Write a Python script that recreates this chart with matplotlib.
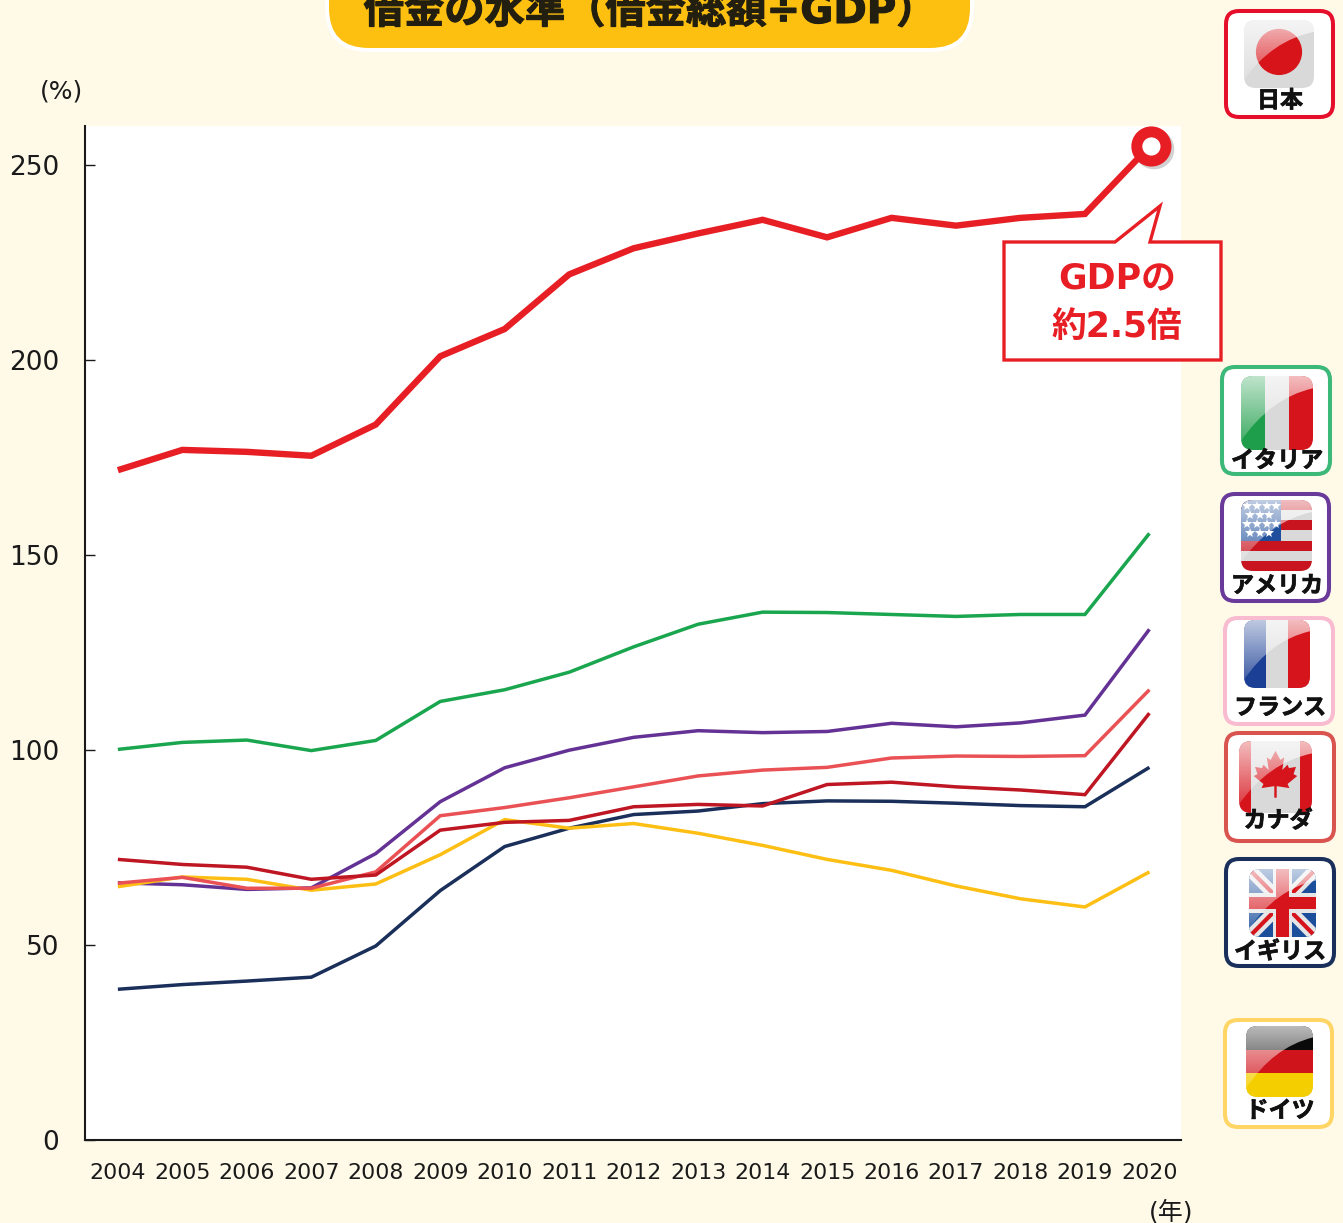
import numpy as np
import matplotlib
matplotlib.use("Agg")
import matplotlib.pyplot as plt
import matplotlib.patheffects as pe
import matplotlib.transforms as mt
from matplotlib.patches import FancyBboxPatch, Polygon, Rectangle, Circle, PathPatch
from matplotlib.path import Path

years = list(range(2004, 2021))
japan = [171.8, 177.0, 176.5, 175.5, 183.5, 201.0, 208.0, 222.0, 228.7, 232.5, 236.0, 231.5, 236.5, 234.5, 236.5, 237.5, 254.8]
italy = [100.2, 102.0, 102.6, 99.9, 102.5, 112.5, 115.5, 120.0, 126.5, 132.3, 135.4, 135.3, 134.8, 134.3, 134.8, 134.8, 155.6]
usa = [66.0, 65.5, 64.3, 64.7, 73.5, 86.8, 95.5, 100.0, 103.3, 105.0, 104.5, 104.8, 106.9, 106.0, 107.0, 109.0, 131.0]
france = [65.9, 67.4, 64.6, 64.6, 68.8, 83.2, 85.3, 87.8, 90.6, 93.4, 94.9, 95.6, 98.0, 98.5, 98.4, 98.6, 115.5]
canada = [72.0, 70.7, 70.0, 66.9, 68.0, 79.5, 81.5, 82.0, 85.5, 86.1, 85.7, 91.2, 91.8, 90.6, 89.8, 88.6, 109.5]
uk = [38.7, 39.9, 40.8, 41.8, 49.8, 64.0, 75.3, 80.0, 83.5, 84.4, 86.3, 87.0, 86.9, 86.4, 85.8, 85.5, 95.6]
germany = [65.0, 67.5, 66.9, 64.1, 65.7, 73.2, 82.2, 80.0, 81.2, 78.7, 75.6, 72.0, 69.2, 65.2, 61.9, 59.8, 68.8]
yticks = [0, 50, 100, 150, 200, 250]

W, H = 1343, 1223
BG = "#FFF9E8"
JP = ["Noto Sans CJK JP", "DejaVu Sans"]
LAT = ["DejaVu Sans", "Noto Sans CJK JP"]
fig = plt.figure(figsize=(W / 100, H / 100), dpi=100, facecolor=BG)

ax = fig.add_axes([85 / W, (H - 1140.2) / H, (1181 - 85) / W, (1140 - 126) / H], facecolor="white")
ax.set_xlim(2003.49, 2020.49)
ax.set_ylim(0, 260)
for s in ("top", "right"):
    ax.spines[s].set_visible(False)
for s in ("left", "bottom"):
    ax.spines[s].set_linewidth(1.5)
    ax.spines[s].set_color("#1a1a1a")
ax.set_xticks(years)
ax.set_yticks(yticks)
ax.tick_params(axis="x", length=0, pad=16.5, labelsize=15.9, labelcolor="#1a1a1a")
ax.tick_params(axis="y", direction="in", length=7.2, width=1.0, pad=18.5, labelsize=19, labelcolor="#1a1a1a", color="#1a1a1a")

series = [(italy, "#1AA64F"), (uk, "#1A2F5A"), (usa, "#643295"), (germany, "#FDBF14"),
          (france, "#EA5155"), (canada, "#BE1622")]
for vals, col in series:
    ax.plot(years, vals, color=col, lw=2.5, solid_joinstyle="miter", solid_capstyle="butt", clip_on=False)
ax.plot(years, japan, color="#E71F25", lw=4.6, solid_joinstyle="miter", solid_capstyle="butt", zorder=5)
ax.plot(years[-1:], japan[-1:], "o", ms=21, mfc="white", mec="#E71F25", mew=7.9, zorder=6, clip_on=False,
        transform=ax.transData + mt.Affine2D().translate(2, 0),
        path_effects=[pe.SimpleLineShadow(offset=(2, -2), alpha=0.18, shadow_color="black"), pe.Normal()])

# pixel-space overlay for decorations
ov = fig.add_axes([0, 0, 1, 1], facecolor="none", zorder=10)
ov.set_xlim(0, W)
ov.set_ylim(H, 0)
ov.axis("off")


def rbox(x0, y0, x1, y1, r, **kw):
    p = FancyBboxPatch((x0 + r, y0 + r), x1 - x0 - 2 * r, y1 - y0 - 2 * r,
                       boxstyle=f"round,pad={r},rounding_size={r}", **kw)
    ov.add_patch(p)
    return p


# title pill
rbox(325, -50, 974, 52, 44, fc="white", ec="none")
rbox(329, -50, 970, 48, 40, fc="#FDC010", ec="none")
ov.text(650, 23, "借金の水準（借金総額÷GDP）", family=LAT, weight="bold", fontsize=29,
        color="#231F10", ha="center", va="baseline",
        path_effects=[pe.withStroke(linewidth=0.8, foreground="#231F10")])

# unit labels
ov.text(62, 91, "(%)", fontsize=18, family=LAT, color="#1a1a1a", ha="center", va="center")
ov.text(1171, 1212, "(年)", fontsize=18, family=LAT, color="#1a1a1a", ha="center", va="center")

# callout
ov.add_patch(Polygon([(1004, 242), (1115, 242), (1160, 206), (1150, 242), (1221, 242), (1221, 360), (1004, 360)],
                     closed=True, fc="white", ec="#E71F25", lw=2.4, joinstyle="miter"))
ov.text(1117, 278, "GDPの", family=LAT, weight="bold", fontsize=25, color="#E71F25", ha="center", va="center")
ov.text(1117, 327, "約2.5倍", family=LAT, weight="bold", fontsize=25, color="#E71F25", ha="center", va="center")


def gloss(x0, y0, x1, y1, a0=0.72, a1=0.1):
    w, h = x1 - x0, y1 - y0
    r = 0.17 * w
    verts = [(x0, y0 + r), (x0, y0), (x0 + r, y0), (x1 - r, y0), (x1, y0), (x1, y0 + r),
             (x0 + 0.4 * w, y0 + 0.3 * h), (x0, y0 + 0.88 * h), (x0, y0 + r)]
    codes = [Path.MOVETO, Path.CURVE3, Path.CURVE3, Path.LINETO, Path.CURVE3, Path.CURVE3,
             Path.CURVE3, Path.CURVE3, Path.CLOSEPOLY]
    grad = np.ones((64, 1, 4))
    grad[:, 0, 3] = np.linspace(a0, a1, 64)
    im = ov.imshow(grad, extent=(x0, x1, y1, y0), aspect="auto", interpolation="bilinear", zorder=3)
    im.set_clip_path(PathPatch(Path(verts, codes), transform=ov.transData))


def add(clip, art):
    art.set_clip_path(clip)
    art.set_zorder(2)
    return art


def rect(clip, x, y, w, h, c):
    ov.add_patch(add(clip, Rectangle((x, y), w, h, fc=c, ec="none")))


def flag_japan(c, x0, y0, x1, y1):
    w, h = x1 - x0, y1 - y0
    ov.add_patch(add(c, Circle((x0 + 0.5 * w, y0 + 0.47 * h), 0.33 * w, fc="#D7141A", ec="none")))


def flag_italy(c, x0, y0, x1, y1):
    w, h = x1 - x0, y1 - y0
    rect(c, x0, y0, w / 3, h, "#1E9E4A")
    rect(c, x0 + 2 * w / 3, y0, w / 3, h, "#D6141C")


def flag_france(c, x0, y0, x1, y1):
    w, h = x1 - x0, y1 - y0
    rect(c, x0, y0, w / 3, h, "#1B3F94")
    rect(c, x0 + 2 * w / 3, y0, w / 3, h, "#D6141C")


def flag_usa(c, x0, y0, x1, y1):
    w, h = x1 - x0, y1 - y0
    sh = h / 7
    for i in (0, 2, 4, 6):
        rect(c, x0, y0 + i * sh, w, sh, "#C8141E")
    rect(c, x0, y0, 0.56 * w, 4 * sh, "#1F4F9C")
    for row in range(4):
        n = 4 if row % 2 == 0 else 3
        ox = 0.09 if row % 2 == 0 else 0.13
        xs = [x0 + (ox + k * 0.135) * w for k in range(n)]
        ys = [y0 + (0.09 + row * 0.125) * h] * n
        l, = ov.plot(xs, ys, "*", color="white", ms=7.5, mew=0)
        add(c, l)


def flag_canada(c, x0, y0, x1, y1):
    w, h = x1 - x0, y1 - y0
    rect(c, x0, y0, 0.17 * w, h, "#D6141C")
    rect(c, x1 - 0.17 * w, y0, 0.17 * w, h, "#D6141C")
    half = [(0, -1), (0.2, -0.62), (0.36, -0.72), (0.28, -0.2), (0.5, -0.42), (0.56, -0.28), (0.85, -0.33),
            (0.75, -0.03), (0.9, 0.05), (0.5, 0.38), (0.58, 0.55), (0.05, 0.47), (0.05, 0.95)]
    pts = half + [(-a, b) for a, b in reversed(half[1:])]
    cx, cy, s = x0 + 0.5 * w, y0 + 0.47 * h, 0.33 * w
    ov.add_patch(add(c, Polygon([(cx + a * s, cy + b * s) for a, b in pts], fc="#D6141C", ec="none")))


def flag_uk(c, x0, y0, x1, y1):
    w, h = x1 - x0, y1 - y0
    rect(c, x0, y0, w, h, "#1B4F9C")
    for (a, b) in (((x0, y0), (x1, y1)), ((x0, y1), (x1, y0))):
        l, = ov.plot([a[0], b[0]], [a[1], b[1]], color="#E6E6E6", lw=9, solid_capstyle="butt")
        add(c, l)
        l, = ov.plot([a[0], b[0]], [a[1], b[1]], color="#D6141C", lw=3, solid_capstyle="butt")
        add(c, l)
    rect(c, x0 + 0.36 * w, y0, 0.28 * w, h, "#E6E6E6")
    rect(c, x0, y0 + 0.36 * h, w, 0.28 * h, "#E6E6E6")
    rect(c, x0 + 0.41 * w, y0, 0.18 * w, h, "#D6141C")
    rect(c, x0, y0 + 0.41 * h, w, 0.18 * h, "#D6141C")


def flag_germany(c, x0, y0, x1, y1):
    w, h = x1 - x0, y1 - y0
    rect(c, x0, y0, w, h / 3, "#0A0A0A")
    rect(c, x0, y0 + h / 3, w, h / 3, "#D0141C")
    rect(c, x0, y0 + 2 * h / 3, w, h / 3, "#F5CE00")


badges = [
    ("日本", (1225, 10, 1334, 118), "#E60F2B", (1244, 20, 1314, 88), (1280, 101), flag_japan),
    ("イタリア", (1221, 366, 1331, 475), "#3CB878", (1241, 376, 1313, 450), (1277, 461), flag_italy),
    ("アメリカ", (1221, 493, 1330, 602), "#6A3A9A", (1241, 500, 1312, 571), (1277, 586), flag_usa),
    ("フランス", (1224, 617, 1334, 725), "#F8BBD0", (1244, 620, 1310, 688), (1280, 708), flag_france),
    ("カナダ", (1225, 732, 1335, 842), "#D9534F", (1239, 741, 1312, 813), (1278, 821), flag_canada),
    ("イギリス", (1225, 858, 1335, 967), "#1A2F5A", (1249, 869, 1316, 937), (1280, 952), flag_uk),
    ("ドイツ", (1224, 1019, 1333, 1128), "#FFD566", (1246, 1026, 1313, 1097), (1280, 1111), flag_germany),
]
for name, (bx0, by0, bx1, by1), col, (fx0, fy0, fx1, fy1), (tx, ty), fn in badges:
    rbox(bx0 + 1, by0 + 1, bx1 - 1, by1 - 1, 13, fc="white", ec=col, lw=2.9, zorder=1)
    clip = rbox(fx0, fy0, fx1, fy1, 0.17 * (fx1 - fx0), fc="#D9D9D9", ec="none", zorder=1.5)
    fn(clip, fx0, fy0, fx1, fy1)
    gloss(fx0, fy0, fx1, fy1)
    ov.text(tx, ty, name, family=JP, weight="bold", fontsize=16.6, color="#111111", ha="center", va="center", zorder=5,
            path_effects=[pe.withStroke(linewidth=0.5, foreground="#111111")])

ov.set_xlim(0, W)
ov.set_ylim(H, 0)
fig.savefig("out.png", dpi=100, facecolor=BG)
